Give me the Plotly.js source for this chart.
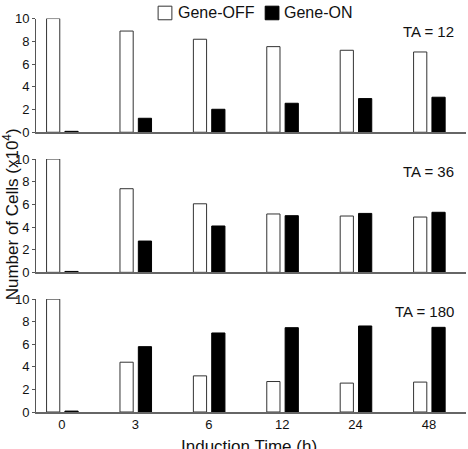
<!DOCTYPE html>
<html>
<head>
<meta charset="utf-8">
<script src="https://cdn.plot.ly/plotly-3.0.1.min.js"></script>
<style>html,body{margin:0;padding:0;background:#fff;}#chart{width:468px;height:449px;}</style>
</head>
<body>
<div id="chart"></div>
<script>
// Data
const timeLabels = ["0", "3", "6", "12", "24", "48"];
const panelLabels = ["TA = 12", "TA = 36", "TA = 180"];
const seriesNames = ["Gene-OFF", "Gene-ON"];
const offTA12 = [10, 8.9, 8.18, 7.53, 7.21, 7.06];
const onTA12  = [0.08, 1.23, 2.02, 2.55, 2.96, 3.08];
const offTA36 = [10, 7.38, 6.05, 5.15, 4.97, 4.88];
const onTA36  = [0.08, 2.76, 4.09, 5.0, 5.2, 5.3];
const offTA180 = [10, 4.41, 3.2, 2.7, 2.56, 2.65];
const onTA180  = [0.08, 5.79, 7.0, 7.47, 7.62, 7.5];
const yTicks = [0, 2, 4, 6, 8, 10];

const xIdx = timeLabels.map((_, i) => i);
const offSeries = [offTA12, offTA36, offTA180];
const onSeries = [onTA12, onTA36, onTA180];
const axisSuffix = ["", "2", "3"];

const FONT = "Liberation Sans, Arial, sans-serif";
const traces = [];
for (let p = 0; p < 3; p++) {
  traces.push({
    type: "bar", x: xIdx, y: offSeries[p], name: seriesNames[0],
    xaxis: "x" + axisSuffix[p], yaxis: "y" + axisSuffix[p],
    width: 0.18, offset: -0.21,
    marker: {color: "#ffffff", line: {color: "#333333", width: 1}},
    showlegend: false, hoverinfo: "skip"
  });
  traces.push({
    type: "bar", x: xIdx, y: onSeries[p], name: seriesNames[1],
    xaxis: "x" + axisSuffix[p], yaxis: "y" + axisSuffix[p],
    width: 0.18, offset: 0.04,
    marker: {color: "#000000", line: {color: "#000000", width: 1}},
    showlegend: false, hoverinfo: "skip"
  });
}

const domains = [[0.679, 0.955], [0.339, 0.614], [0.0, 0.274]];
const xRange = [-0.354, 5.504];
const layout = {
  width: 468, height: 449,
  margin: {l: 36, r: 2, t: 0, b: 37},
  paper_bgcolor: "#ffffff", plot_bgcolor: "#ffffff",
  font: {family: FONT, color: "#111111", size: 13},
  barmode: "overlay",
  showlegend: false,
  annotations: [],
  shapes: [
    {type: "rect", xref: "paper", yref: "paper", x0: 0.284, x1: 0.316, y0: 0.952, y1: 0.985,
     fillcolor: "#ffffff", line: {color: "#333333", width: 1}},
    {type: "rect", xref: "paper", yref: "paper", x0: 0.533, x1: 0.565, y0: 0.952, y1: 0.985,
     fillcolor: "#000000", line: {color: "#000000", width: 1}}
  ]
};
layout.annotations.push({
  text: seriesNames[0], xref: "paper", yref: "paper", x: 0.325, y: 0.970,
  xanchor: "left", yanchor: "middle", showarrow: false,
  font: {size: 16, family: FONT, color: "#111"}
});
layout.annotations.push({
  text: seriesNames[1], xref: "paper", yref: "paper", x: 0.572, y: 0.970,
  xanchor: "left", yanchor: "middle", showarrow: false,
  font: {size: 16, family: FONT, color: "#111"}
});
for (let p = 0; p < 3; p++) {
  const s = axisSuffix[p];
  layout["xaxis" + s] = {
    domain: [0, 1], range: xRange, anchor: "y" + s,
    tickvals: xIdx, ticktext: timeLabels,
    showticklabels: p === 2, ticks: "",
    showline: true, linecolor: "#666666", linewidth: 1.5,
    showgrid: false, zeroline: false, fixedrange: true,
    tickfont: {size: 13, family: FONT, color: "#111"}
  };
  layout["yaxis" + s] = {
    domain: domains[p], range: [0, 10], anchor: "x" + s,
    tickvals: yTicks, ticks: "outside", ticklen: 3, tickcolor: "#555",
    showline: true, linecolor: "#555555", linewidth: 1,
    showgrid: false, zeroline: false, fixedrange: true,
    tickfont: {size: 13, family: FONT, color: "#111"}
  };
  layout.annotations.push({
    text: panelLabels[p], xref: "paper", yref: "y" + s + " domain",
    x: 0.977, y: 0.886, xanchor: "right", yanchor: "middle",
    showarrow: false, font: {size: 15, family: FONT, color: "#111"}
  });
}
layout.annotations.push({
  text: "Number of Cells (x10<sup>4</sup>)", xref: "paper", yref: "paper",
  x: -0.058, y: 0.48, xanchor: "center", yanchor: "middle", textangle: -90,
  showarrow: false, font: {size: 17, family: FONT, color: "#111"}
});
layout.annotations.push({
  text: "Induction Time (h)", xref: "paper", yref: "paper",
  x: 0.495, y: -0.084, xanchor: "center", yanchor: "middle",
  showarrow: false, font: {size: 17, family: FONT, color: "#111"}
});

Plotly.newPlot("chart", traces, layout, {displayModeBar: false, staticPlot: true});
</script>
</body>
</html>
